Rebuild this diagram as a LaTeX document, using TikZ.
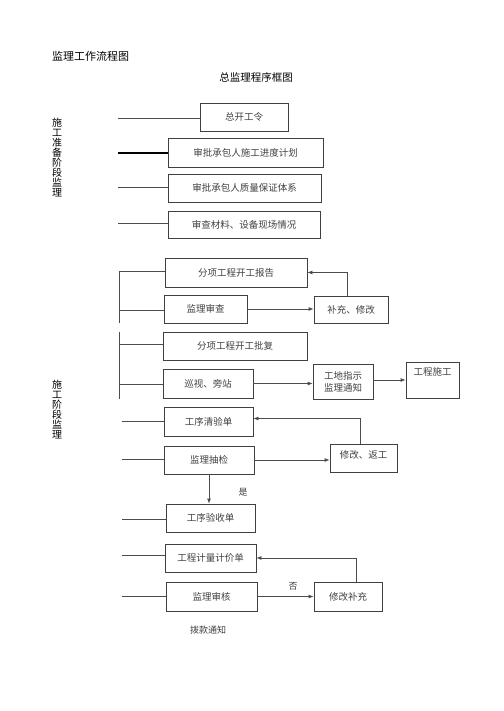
\documentclass[tikz,border=0pt]{standalone}
\usepackage{fontspec}
\setmainfont{Noto Sans CJK SC}
\usetikzlibrary{arrows.meta}
\begin{document}
\begin{tikzpicture}[x=1pt,y=-1pt,
  box/.style={draw=black!75, line width=0.8pt, rectangle, inner sep=1pt, text=black!75, font=\fontsize{9.5}{12}\selectfont},
  link/.style={draw=black!70, line width=0.8pt},
  arr/.style={link, -{Latex[length=5pt,width=4pt]}},
  side/.style={align=center, font=\fontsize{10}{10}\selectfont, inner sep=0pt}]
\useasboundingbox (0,0) rectangle (503,711);
% titles
\node[anchor=west, font=\fontsize{11}{11}\selectfont, inner sep=0pt] (title) at (52,56) {监理工作流程图};
\node[font=\fontsize{10.5}{11}\selectfont, inner sep=0pt] (subtitle) at (256,78) {总监理程序框图};
\node[side] (stage1) at (57,158) {施\\工\\准\\备\\阶\\段\\监\\理};
\node[side] (stage2) at (57,410) {施\\工\\阶\\段\\监\\理};
% preparation stage
\node[box, minimum width=88, minimum height=28] (b0) at (244,117) {总开工令};
\node[box, minimum width=155, minimum height=29] (b1) at (245.5,152.5) {审批承包人施工进度计划};
\node[box, minimum width=153, minimum height=28] (b2) at (244.5,188) {审批承包人质量保证体系};
\node[box, minimum width=152, minimum height=27] (b3) at (244,224.5) {审查材料、设备现场情况};
\foreach \n/\y in {b0/118, b2/187, b3/223} {
  \coordinate (l\n) at (118,\y);
  \draw[link] (l\n) -- (l\n -| \n.west);
}
\coordinate (lb1) at (118,153);
\draw[link, draw=black, line width=1.2pt] (lb1) -- (lb1 -| b1.west);
% construction stage
\node[box, minimum width=142, minimum height=29] (b4) at (236,272.5) {分项工程开工报告};
\node[box, minimum width=83, minimum height=28] (b5) at (205.5,309) {监理审查};
\node[box, minimum width=74, minimum height=27] (b6) at (351,309.5) {补充、修改};
\node[box, minimum width=144, minimum height=28] (b7) at (235,346) {分项工程开工批复};
\node[box, minimum width=90, minimum height=29] (b8) at (208,383.5) {巡视、旁站};
\node[box, minimum width=60, minimum height=35, align=center] (b9) at (343,381.5) {工地指示\\监理通知};
\node[box, minimum width=53, minimum height=36, text depth=16pt] (b10) at (432.5,380) {工程施工};
\node[box, minimum width=89, minimum height=29] (b11) at (208.5,421.5) {工序清验单};
\node[box, minimum width=90, minimum height=28] (b12) at (209,460) {监理抽检};
\node[box, minimum width=67, minimum height=28, text depth=6pt] (b13) at (363.5,458) {修改、返工};
\node[box, minimum width=89, minimum height=28] (b14) at (210.5,518) {工序验收单};
\node[box, minimum width=91, minimum height=28] (b15) at (210.5,558) {工程计量计价单};
\node[box, minimum width=91, minimum height=29] (b16) at (211.5,596.5) {监理审核};
\node[box, minimum width=68, minimum height=29] (b17) at (348,596.5) {修改补充};
\node[font=\fontsize{9}{11}\selectfont, text=black!75, inner sep=0pt] (pay) at (208,630) {拨款通知};
% left spines
\coordinate (s1) at (119,271);
\coordinate (s2) at (119,323);
\coordinate (s3) at (119,332);
\coordinate (s4) at (119,399);
\draw[link] (s1) -- (s2);
\draw[link] (s3) -- (s4);
\foreach \n/\y in {b4/271, b5/310} {
  \coordinate (l\n) at (119,\y);
  \draw[link] (l\n) -- (l\n -| \n.west);
}
\foreach \n/\y in {b7/344, b8/384} {
  \coordinate (l\n) at (119,\y);
  \draw[link] (l\n) -- (l\n -| \n.west);
}
\foreach \n/\y in {b11/421, b12/459, b14/519, b15/555, b16/596} {
  \coordinate (l\n) at (122,\y);
  \draw[link] (l\n) -- (l\n -| \n.west);
}
% flow arrows
\draw[arr] (b5.east) -- (b5.east -| b6.west);
\draw[arr] ([xshift=-4pt]b6.north) |- (b4.east);
\draw[arr] (b8.east) -- (b8.east -| b9.west);
\draw[arr] ([yshift=1.5pt]b9.east) -- ([yshift=1.5pt]b9.east -| b10.west);
\draw[arr] ([xshift=-3.5pt]b13.north) |- ([yshift=3pt]b11.east);
\draw[arr] (b12.east) -- (b12.east -| b13.west);
\draw[arr] (b12.south) -- (b12.south |- b14.north);
\node[font=\fontsize{9}{11}\selectfont, text=black!75, inner sep=0pt] (yes) at (243,492) {是};
\draw[arr] (b16.east) -- (b16.east -| b17.west);
\node[font=\fontsize{9}{11}\selectfont, text=black!75, inner sep=0pt] (no) at (293,586) {否};
\draw[arr] ([xshift=8pt]b17.north) |- (b15.east);
\end{tikzpicture}
\end{document}
